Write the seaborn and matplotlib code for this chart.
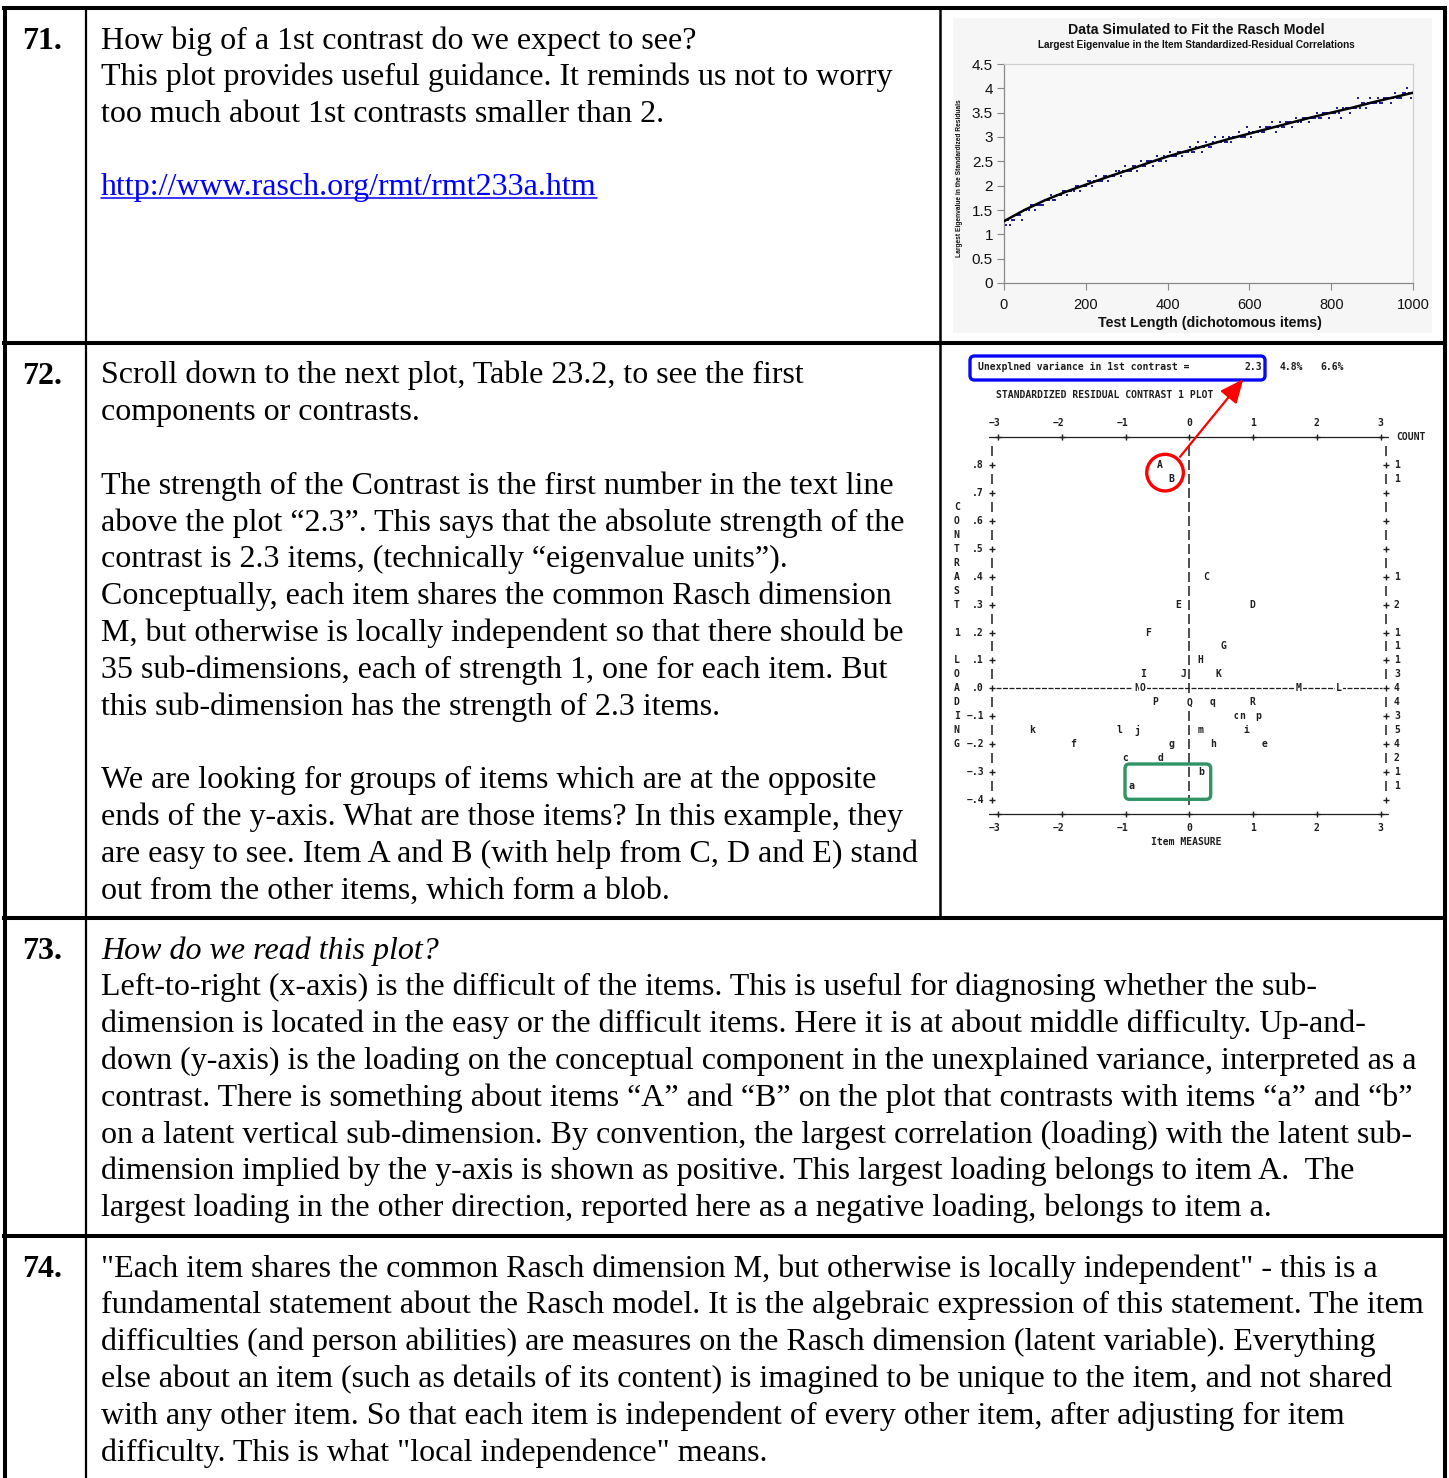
import numpy as np
import pandas as pd
import matplotlib
matplotlib.use('Agg')
import matplotlib.pyplot as plt
import seaborn as sns
from matplotlib.patches import Rectangle, FancyBboxPatch, Ellipse, FancyArrowPatch
from matplotlib.lines import Line2D

# ---------------- data: top-right chart ----------------
test_len_a = [10, 20, 30, 40, 50, 60, 70, 80, 90, 100,
              110, 120, 130, 140, 150, 160, 170, 180, 190, 200,
              210, 220, 230, 240, 250, 260, 270, 280, 290, 300,
              310, 320, 330, 340, 350, 360, 370, 380, 390, 400,
              410, 420, 430, 440, 450, 460, 470, 480, 490, 500,
              510, 520, 530, 540, 550, 560, 570, 580, 590, 600,
              610, 620, 630, 640, 650, 660, 670, 680, 690, 700,
              710, 720, 730, 740, 750, 760, 770, 780, 790, 800,
              810, 820, 830, 840, 850, 860, 870, 880, 890, 900,
              910, 920, 930, 940, 950, 960, 970, 980, 990, 1000]
eig_a = [1.3, 1.3, 1.4, 1.4, 1.5, 1.5, 1.6, 1.6, 1.6, 1.7,
         1.7, 1.7, 1.8, 1.8, 1.9, 1.9, 1.9, 2.0, 2.0, 2.0,
         2.1, 2.1, 2.1, 2.1, 2.2, 2.2, 2.2, 2.3, 2.3, 2.3,
         2.3, 2.4, 2.4, 2.4, 2.5, 2.5, 2.5, 2.5, 2.6, 2.6,
         2.6, 2.6, 2.7, 2.7, 2.7, 2.7, 2.8, 2.8, 2.8, 2.8,
         2.9, 2.9, 2.9, 2.9, 3.0, 3.0, 3.0, 3.0, 3.0, 3.1,
         3.1, 3.1, 3.1, 3.2, 3.2, 3.2, 3.2, 3.2, 3.3, 3.3,
         3.3, 3.3, 3.4, 3.4, 3.4, 3.4, 3.4, 3.5, 3.5, 3.5,
         3.5, 3.5, 3.6, 3.6, 3.6, 3.6, 3.6, 3.7, 3.7, 3.7,
         3.7, 3.7, 3.8, 3.8, 3.8, 3.8, 3.8, 3.9, 3.9, 3.9]
test_len_b = [5, 15, 25, 35, 45, 55, 65, 75, 85, 95,
              105, 115, 125, 135, 145, 155, 165, 175, 185, 195,
              205, 215, 225, 235, 245, 255, 265, 275, 285, 295,
              305, 315, 325, 335, 345, 355, 365, 375, 385, 395,
              405, 415, 425, 435, 445, 455, 465, 475, 485, 495,
              505, 515, 525, 535, 545, 555, 565, 575, 585, 595,
              605, 615, 625, 635, 645, 655, 665, 675, 685, 695,
              705, 715, 725, 735, 745, 755, 765, 775, 785, 795,
              805, 815, 825, 835, 845, 855, 865, 875, 885, 895,
              905, 915, 925, 935, 945, 955, 965, 975, 985, 995]
eig_b = [1.2, 1.2, 1.3, 1.4, 1.3, 1.5, 1.6, 1.5, 1.6, 1.6,
         1.7, 1.8, 1.7, 1.8, 1.9, 1.8, 1.9, 2.0, 1.9, 2.0,
         2.1, 2.0, 2.2, 2.1, 2.2, 2.1, 2.2, 2.3, 2.2, 2.4,
         2.3, 2.4, 2.3, 2.5, 2.4, 2.5, 2.4, 2.6, 2.5, 2.5,
         2.7, 2.6, 2.7, 2.6, 2.7, 2.8, 2.7, 2.9, 2.7, 2.9,
         2.8, 3.0, 2.9, 3.0, 2.9, 2.9, 3.0, 3.1, 3.0, 3.2,
         3.0, 3.1, 3.2, 3.1, 3.2, 3.3, 3.1, 3.3, 3.2, 3.3,
         3.2, 3.4, 3.3, 3.4, 3.3, 3.4, 3.5, 3.4, 3.5, 3.4,
         3.5, 3.6, 3.4, 3.6, 3.5, 3.6, 3.8, 3.7, 3.6, 3.8,
         3.7, 3.8, 3.7, 3.8, 3.7, 3.9, 3.8, 3.9, 4.0, 3.8]
curve_len = [0, 50, 100, 150, 200, 250, 300, 350, 400, 450, 500,
             550, 600, 650, 700, 750, 800, 850, 900, 950, 1000]
curve_eig = [1.27, 1.50, 1.70, 1.87, 2.02, 2.17, 2.31, 2.46, 2.60, 2.72, 2.84,
             2.96, 3.07, 3.18, 3.29, 3.40, 3.50, 3.60, 3.71, 3.81, 3.91]
x_ticks_71 = [0, 200, 400, 600, 800, 1000]
y_ticks_71 = [0, 0.5, 1, 1.5, 2, 2.5, 3, 3.5, 4, 4.5]

# ---------------- data: ASCII contrast plot ----------------
item_labels = ['A', 'B', 'C', 'E', 'D', 'F', 'G', 'H', 'I', 'J', 'K',
               'N', 'O', 'M', 'L', 'P', 'Q', 'q', 'R', 'o', 'n', 'p',
               'k', 'l', 'j', 'm', 'i', 'f', 'g', 'h', 'e', 'c', 'd', 'b', 'a']
item_measure = [-0.47, -0.28, 0.27, -0.18, 0.99, -0.64, 0.54, 0.18, -0.73, -0.09, 0.46,
                -0.82, -0.73, 1.72, 2.35, -0.54, 0.00, 0.37, 0.99, 0.74, 0.83, 1.08,
                -2.46, -1.10, -0.82, 0.17, 0.90, -1.82, -0.28, 0.37, 1.18, -1.00, -0.45, 0.18, -0.90]
item_loading = [0.80, 0.75, 0.40, 0.30, 0.30, 0.20, 0.15, 0.10, 0.05, 0.05, 0.05,
                0.00, 0.00, 0.00, 0.00, -0.05, -0.05, -0.05, -0.05, -0.10, -0.10, -0.10,
                -0.15, -0.15, -0.15, -0.15, -0.15, -0.20, -0.20, -0.20, -0.20, -0.25, -0.25, -0.30, -0.35]
measure_ticks = [-3, -2, -1, 0, 1, 2, 3]
measure_tick_labels = ['\u22123', '\u22122', '\u22121', '0', '1', '2', '3']
loading_ticks = [0.8, 0.7, 0.6, 0.5, 0.4, 0.3, 0.2, 0.1, 0.0, -0.1, -0.2, -0.3, -0.4]
loading_tick_labels = ['.8', '.7', '.6', '.5', '.4', '.3', '.2', '.1', '.0',
                       '\u2212.1', '\u2212.2', '\u2212.3', '\u2212.4']
y_axis_title = 'CONTRAST 1 LOADING'
contrast_eigen = '2.3'
contrast_pcts = ['4.8%', '6.6%']

# ---------------- data: table text ----------------
row_numbers = ['71.', '72.', '73.', '74.']
row71_lines = ["How big of a 1st contrast do we expect to see?",
               "This plot provides useful guidance. It reminds us not to worry",
               "too much about 1st contrasts smaller than 2."]
row71_link = "http://www.rasch.org/rmt/rmt233a.htm"
row72_lines = ["Scroll down to the next plot, Table 23.2, to see the first",
               "components or contrasts.",
               "",
               "The strength of the Contrast is the first number in the text line",
               "above the plot \u201c2.3\u201d. This says that the absolute strength of the",
               "contrast is 2.3 items, (technically \u201ceigenvalue units\u201d).",
               "Conceptually, each item shares the common Rasch dimension",
               "M, but otherwise is locally independent so that there should be",
               "35 sub-dimensions, each of strength 1, one for each item. But",
               "this sub-dimension has the strength of 2.3 items.",
               "",
               "We are looking for groups of items which are at the opposite",
               "ends of the y-axis. What are those items? In this example, they",
               "are easy to see. Item A and B (with help from C, D and E) stand",
               "out from the other items, which form a blob."]
row73_title = "How do we read this plot?"
row73_lines = ["Left-to-right (x-axis) is the difficult of the items. This is useful for diagnosing whether the sub-",
               "dimension is located in the easy or the difficult items. Here it is at about middle difficulty. Up-and-",
               "down (y-axis) is the loading on the conceptual component in the unexplained variance, interpreted as a",
               "contrast. There is something about items \u201cA\u201d and \u201cB\u201d on the plot that contrasts with items \u201ca\u201d and \u201cb\u201d",
               "on a latent vertical sub-dimension. By convention, the largest correlation (loading) with the latent sub-",
               "dimension implied by the y-axis is shown as positive. This largest loading belongs to item A.  The",
               "largest loading in the other direction, reported here as a negative loading, belongs to item a."]
row74_lines = ["\"Each item shares the common Rasch dimension M, but otherwise is locally independent\" - this is a",
               "fundamental statement about the Rasch model. It is the algebraic expression of this statement. The item",
               "difficulties (and person abilities) are measures on the Rasch dimension (latent variable). Everything",
               "else about an item (such as details of its content) is imagined to be unique to the item, and not shared",
               "with any other item. So that each item is independent of every other item, after adjusting for item",
               "difficulty. This is what \"local independence\" means."]

# ---------------- figure ----------------
W, H = 1449, 1478
sns.set_theme(style='white')
plt.rcParams['font.family'] = ['Liberation Serif', 'DejaVu Serif']
fig = plt.figure(figsize=(W / 100, H / 100), dpi=100)
fig.patch.set_facecolor('white')


def fx(px):
    return px / W


def fy(py):
    return 1 - py / H


TS = 23.0
LINE = 36.8
BOFF = 9.5


def seg(x0, y0, x1, y1, lw):
    fig.add_artist(Line2D([fx(x0), fx(x1)], [fy(y0), fy(y1)], color='black',
                          lw=lw, solid_capstyle='projecting'))


# table borders
TH = 2.9
for yy in [7.5, 343, 918, 1236]:
    seg(4, yy, 1445, yy, TH)
seg(4.5, 7.5, 4.5, 1478, TH)
seg(1445, 7.5, 1445, 1478, TH)
seg(86, 7.5, 86, 1478, 1.6)
seg(940, 7.5, 940, 918, 1.8)


def tline(x, yc, s, color='black', **kw):
    return fig.text(fx(x), fy(yc + BOFF), s, fontsize=TS, va='baseline', ha='left',
                    color=color, **kw)


# row numbers
for num, yc in zip(row_numbers, [39, 374, 949, 1267]):
    tline(22, yc + 0.8, num, fontweight='bold')

# row 71
for i, s in enumerate(row71_lines):
    tline(101, 39 + i * LINE, s)
link = tline(101, 185, row71_link, color='#0000ff')
fig.canvas.draw()
bb = link.get_window_extent(fig.canvas.get_renderer())
fig.add_artist(Line2D([bb.x0 / W, bb.x1 / W], [fy(185 + BOFF + 3.5)] * 2, color='#0000ff', lw=1.1))

# row 72
for i, s in enumerate(row72_lines):
    if s:
        tline(101, 374 + i * LINE, s)

# row 73
tline(101, 949, row73_title, fontstyle='italic')
for i, s in enumerate(row73_lines):
    tline(101, 986 + i * LINE, s)

# row 74
for i, s in enumerate(row74_lines):
    tline(101, 1267 + i * LINE, s)

# ---------------- top-right chart ----------------
SANS = ['Liberation Sans', 'DejaVu Sans']
fig.add_artist(Rectangle((fx(953), fy(333)), fx(1432) - fx(953), (333 - 18) / H,
                         transform=fig.transFigure, facecolor='#f6f6f6', edgecolor='none', zorder=0))
ax1 = fig.add_axes([fx(1004), fy(283), fx(1413) - fx(1004), (283 - 64) / H])
ax1.set_facecolor('#f8f8f8')
df_a = pd.DataFrame({'len': test_len_a + test_len_b, 'eig': eig_a + eig_b})
sns.scatterplot(data=df_a, x='len', y='eig', ax=ax1, s=2.5, color='#1f1f96',
                linewidth=0, marker='s', zorder=2)
df_c = pd.DataFrame({'len': curve_len, 'eig': curve_eig})
sns.lineplot(data=df_c, x='len', y='eig', ax=ax1, color='black', lw=1.8, zorder=3)
ax1.set_xlim(0, 1000)
ax1.set_ylim(0, 4.5)
ax1.set_xticks(x_ticks_71)
ax1.set_yticks(y_ticks_71)
ax1.set_yticklabels([f'{v:g}' for v in y_ticks_71], family=SANS, fontsize=11)
ax1.set_xticklabels([str(v) for v in x_ticks_71], family=SANS, fontsize=10.5)
ax1.tick_params(axis='both', direction='out', length=5, width=0.8, color='#888888',
                labelcolor='#111111', pad=3, left=True, bottom=True)
ax1.tick_params(axis='x', pad=6)
ax1.set_xlabel('')
ax1.set_ylabel('')
for side in ['left', 'bottom']:
    ax1.spines[side].set_color('#888888')
    ax1.spines[side].set_linewidth(0.9)
for side in ['top', 'right']:
    ax1.spines[side].set_color('#cfcfcf')
    ax1.spines[side].set_linewidth(0.9)
fig.text(fx(1196), fy(30), 'Data Simulated to Fit the Rasch Model', family=SANS,
         fontsize=10.2, fontweight='bold', ha='center', va='center', color='#111111')
fig.text(fx(1196), fy(45), 'Largest Eigenvalue in the Item Standardized-Residual Correlations',
         family=SANS, fontsize=7.2, fontweight='bold', ha='center', va='center', color='#111111')
fig.text(fx(1210), fy(323), 'Test Length (dichotomous items)', family=SANS,
         fontsize=10.3, fontweight='bold', ha='center', va='center', color='#111111')
fig.text(fx(959), fy(178), 'Largest Eigenvalue in the Standardized Residuals', family=SANS,
         fontsize=4.8, fontweight='bold', rotation=90, ha='center', va='center', color='#111111')

# ---------------- ASCII contrast plot ----------------
PX_X, X0 = 63.8, 1189.3
PX_Y, Y0 = 279.0, 688.3
ax2 = fig.add_axes([fx(945), fy(915), fx(1440) - fx(945), (915 - 350) / H])
ax2.set_xlim((945 - X0) / PX_X, (1440 - X0) / PX_X)
ax2.set_ylim((Y0 - 915) / PX_Y, (Y0 - 350) / PX_Y)
ax2.axis('off')
MONO = 'DejaVu Sans Mono'
MS = 7.0
MW = 'bold'
TC = '#1e1e1e'


def mtext(x, y, s, ha='center', **kw):
    return ax2.text(x, y, s, family=MONO, fontsize=MS, fontweight=MW, ha=ha, va='center',
                    color=TC, **kw)


xl, xr = (992 - X0) / PX_X, (1386 - X0) / PX_X
rows = [round(0.85 - 0.05 * i, 2) for i in range(26)]  # character rows .85 .. -.4
major = [r for r in rows if abs(round(r * 10) - r * 10) < 1e-6]
minor = [r for r in rows if r not in major]

# top & bottom axes
for yy in [0.9, -0.45]:
    ax2.plot([(989 - X0) / PX_X, (1388 - X0) / PX_X], [yy, yy], color=TC, lw=0.9)
    ax2.plot(measure_ticks, [yy] * len(measure_ticks), ls='none', marker='+',
             ms=5, mew=1.0, color=TC)
# side frames
for xx in [xl, xr]:
    ax2.plot([xx] * len(major), major, ls='none', marker='+', ms=5, mew=1.0, color=TC)
    ax2.plot([xx] * len(minor), minor, ls='none', marker='|', ms=7, mew=1.1, color=TC)
# zero lines
ax2.plot([xl + 0.06, xr - 0.06], [0, 0], color=TC, lw=0.9, ls=(0, (4, 1.2)), zorder=1)
vrows = [r for r in rows if r != -0.05]
ax2.plot([0] * len(vrows), vrows, ls='none', marker='|', ms=7, mew=1.1, color=TC, zorder=1)

# tick labels
for t, lab in zip(measure_ticks, measure_tick_labels):
    for yy in [0.95, -0.5]:
        if lab.startswith('\u2212'):
            mtext(t + 0.046, yy, lab, ha='right')
        else:
            mtext(t, yy, lab)
for t, lab in zip(loading_ticks, loading_tick_labels):
    mtext((984 - X0) / PX_X, t, lab, ha='right')
for i, ch in enumerate(y_axis_title):
    if ch != ' ':
        mtext((956.7 - X0) / PX_X, 0.65 - 0.05 * i, ch)
mtext(-0.04, -0.55, 'Item MEASURE')
mtext((1396 - X0) / PX_X, 0.9, 'COUNT', ha='left')

# items
for lab, mx, ld in zip(item_labels, item_measure, item_loading):
    ax2.text(mx, ld, lab, family=MONO, fontsize=MS, fontweight=MW, ha='center', va='center',
             color=TC, zorder=3, bbox=dict(facecolor='white', edgecolor='none', pad=0.6))
counts = pd.Series(item_loading).round(2).value_counts()
for ld, c in counts.items():
    mtext((1394 - X0) / PX_X, ld, str(c), ha='left')

# header texts
mtext((978.3 - X0) / PX_X, 1.15, 'Unexplned variance in 1st contrast =', ha='left')
mtext((1261.7 - X0) / PX_X, 1.15, contrast_eigen, ha='right')
mtext((1280 - X0) / PX_X, 1.15, contrast_pcts[0], ha='left')
mtext((1320 - X0) / PX_X, 1.15, contrast_pcts[1], ha='left')
mtext((995.7 - X0) / PX_X, 1.05, 'STANDARDIZED RESIDUAL CONTRAST 1 PLOT', ha='left')

# annotations
asp = (1 / PX_Y) / (1 / PX_X)
bx0, bx1 = (970 - X0) / PX_X, (1265 - X0) / PX_X
by0, by1 = (Y0 - 380) / PX_Y, (Y0 - 356) / PX_Y
ax2.add_patch(FancyBboxPatch((bx0, by0), bx1 - bx0, by1 - by0,
                             boxstyle='round,pad=0,rounding_size=0.07', mutation_aspect=asp,
                             facecolor='none', edgecolor='#0808f8', lw=2.4, clip_on=False, zorder=4))
gx0, gx1 = (1125 - X0) / PX_X, (1210.7 - X0) / PX_X
gy0, gy1 = (Y0 - 799.3) / PX_Y, (Y0 - 764) / PX_Y
ax2.add_patch(FancyBboxPatch((gx0, gy0), gx1 - gx0, gy1 - gy0,
                             boxstyle='round,pad=0,rounding_size=0.07', mutation_aspect=asp,
                             facecolor='none', edgecolor='#2e9464', lw=2.4, clip_on=False, zorder=4))
ax2.add_patch(Ellipse((-0.38, 0.773), 2 * 18.3 / PX_X, 2 * 18.3 / PX_Y, facecolor='none',
                      edgecolor='#ff0000', lw=2.4, zorder=4))
ax2.add_patch(FancyArrowPatch((-0.145, 0.83), (0.846, 1.108),
                              arrowstyle='-|>,head_length=0.9,head_width=0.4', mutation_scale=16,
                              color='#ff0000', lw=1.6, shrinkA=0, shrinkB=0, zorder=5))

fig.savefig('out.png', dpi=100, facecolor='white')
